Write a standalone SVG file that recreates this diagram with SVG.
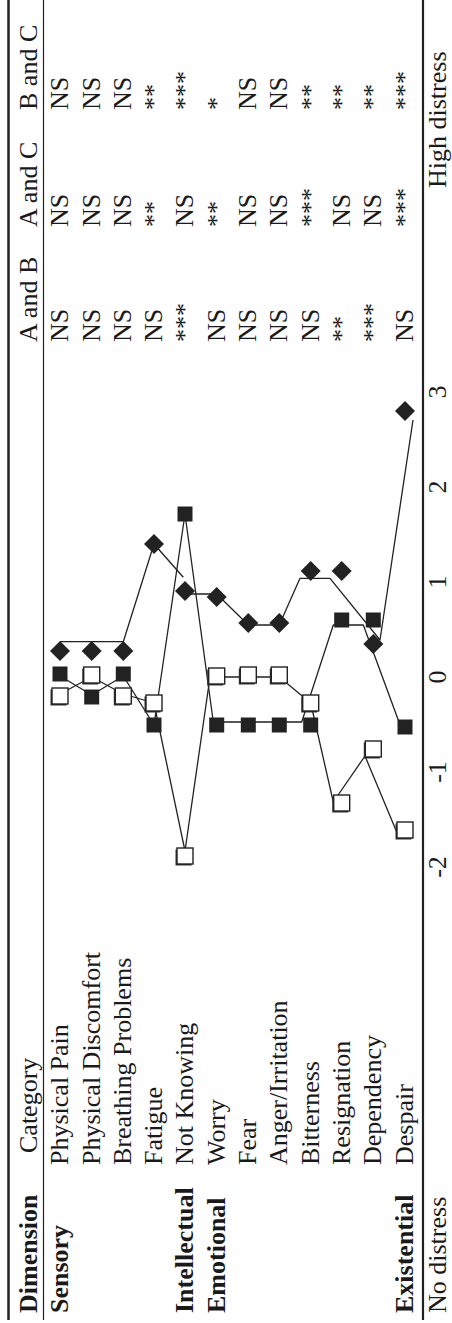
<svg xmlns="http://www.w3.org/2000/svg" xmlns:xlink="http://www.w3.org/1999/xlink" width="452" height="1323" viewBox="0 0 452 1323">
<style>
.t{font-family:"Liberation Serif","Times New Roman",serif;font-size:26px;fill:#1a1a1a}
.b{font-weight:bold}
.m{text-anchor:middle}
.rule{stroke:#222;fill:none}
.ln{stroke:#222;fill:none;stroke-width:1.3;stroke-linejoin:round}
</style>
<defs>
<path id="dia" d="M0,-10 L10,0 L0,10 L-10,0Z" fill="#222"/>
<rect id="fsq" x="-7.5" y="-7.5" width="15" height="15" fill="#222"/>
<g id="osq"><rect x="-9.5" y="-6.5" width="16" height="16" fill="#333"/><rect x="-8" y="-8" width="16" height="16" fill="#fff" stroke="#222" stroke-width="1.4"/></g>
</defs>
<rect width="452" height="1323" fill="#fff"/>
<g id="rules">
<line class="rule" x1="8.5" y1="0" x2="8.5" y2="1320" stroke-width="2.5"/>
<line class="rule" x1="43.5" y1="0" x2="43.5" y2="1320" stroke-width="1.2"/>
<line class="rule" x1="423" y1="0" x2="423" y2="1320" stroke-width="2.2"/>
</g>
<g id="table-text" transform="translate(0,1323) rotate(-90)">
<g id="header">
<text class="t b" x="10" y="37">Dimension</text>
<text class="t" x="170" y="37">Category</text>
<text class="t" x="981" y="37">A and B</text>
<text class="t" x="1096" y="37">A and C</text>
<text class="t" x="1213" y="37">B and C</text>
</g>
<g id="dimensions">
<text class="t b" x="10" y="68">Sensory</text>
<text class="t b" x="10" y="193">Intellectual</text>
<text class="t b" x="10" y="224.7">Emotional</text>
<text class="t b" x="10" y="413">Existential</text>
</g>
<g id="categories">
<text class="t" x="158" y="68">Physical Pain</text>
<text class="t" x="158" y="99.7">Physical Discomfort</text>
<text class="t" x="158" y="131.3">Breathing Problems</text>
<text class="t" x="158" y="162">Fatigue</text>
<text class="t" x="158" y="193">Not Knowing</text>
<text class="t" x="158" y="224.7">Worry</text>
<text class="t" x="158" y="256.3">Fear</text>
<text class="t" x="158" y="287.3">Anger/Irritation</text>
<text class="t" x="158" y="318.7">Bitterness</text>
<text class="t" x="158" y="349.7">Resignation</text>
<text class="t" x="158" y="381.3">Dependency</text>
<text class="t" x="158" y="413">Despair</text>
</g>
<g id="col-ab">
<text class="t" x="981" y="68">NS</text>
<text class="t" x="981" y="99.7">NS</text>
<text class="t" x="981" y="131.3">NS</text>
<text class="t" x="981" y="162">NS</text>
<text class="t" x="981" y="193">***</text>
<text class="t" x="981" y="224.7">NS</text>
<text class="t" x="981" y="256.3">NS</text>
<text class="t" x="981" y="287.3">NS</text>
<text class="t" x="981" y="318.7">NS</text>
<text class="t" x="981" y="349.7">**</text>
<text class="t" x="981" y="381.3">***</text>
<text class="t" x="981" y="413">NS</text>
</g>
<g id="col-ac">
<text class="t" x="1096" y="68">NS</text>
<text class="t" x="1096" y="99.7">NS</text>
<text class="t" x="1096" y="131.3">NS</text>
<text class="t" x="1096" y="162">**</text>
<text class="t" x="1096" y="193">NS</text>
<text class="t" x="1096" y="224.7">**</text>
<text class="t" x="1096" y="256.3">NS</text>
<text class="t" x="1096" y="287.3">NS</text>
<text class="t" x="1096" y="318.7">***</text>
<text class="t" x="1096" y="349.7">NS</text>
<text class="t" x="1096" y="381.3">NS</text>
<text class="t" x="1096" y="413">***</text>
</g>
<g id="col-bc">
<text class="t" x="1213" y="68">NS</text>
<text class="t" x="1213" y="99.7">NS</text>
<text class="t" x="1213" y="131.3">NS</text>
<text class="t" x="1213" y="162">**</text>
<text class="t" x="1213" y="193">***</text>
<text class="t" x="1213" y="224.7">*</text>
<text class="t" x="1213" y="256.3">NS</text>
<text class="t" x="1213" y="287.3">NS</text>
<text class="t" x="1213" y="318.7">**</text>
<text class="t" x="1213" y="349.7">**</text>
<text class="t" x="1213" y="381.3">**</text>
<text class="t" x="1213" y="413">***</text>
</g>
<g id="footer">
<text class="t" x="10" y="446">No distress</text>
<text class="t" x="1135" y="446">High distress</text>
<text class="t m" x="456" y="446">-2</text>
<text class="t m" x="551" y="446">-1</text>
<text class="t m" x="646" y="446">0</text>
<text class="t m" x="741" y="446">1</text>
<text class="t m" x="836" y="446">2</text>
<text class="t m" x="931" y="446">3</text>
</g>
</g>
<g id="connectors">
<polyline class="ln" points="60,641.7 123.3,641.7 154,544 183.3,577.3"/>
<polyline class="ln" points="185,594 216.7,594 248.3,625 279.3,625 300,578.3 330,578.3 380,640 413,420"/>
<polyline class="ln" points="60,676 91.7,695 123.3,676 154,725 185,514 213.3,722 301.7,722 333.3,625 363.3,625 399,722"/>
<polyline class="ln" points="60,694 91.7,677 123.3,694 154,703 185,851 210,677 279.3,677 310.7,703 333.3,802 365,756 396.7,832"/>
</g>
<g id="series-c">
<use xlink:href="#osq" x="60" y="696"/>
<use xlink:href="#osq" x="91.7" y="675"/>
<use xlink:href="#osq" x="123.3" y="696"/>
<use xlink:href="#osq" x="154" y="703"/>
<use xlink:href="#osq" x="185" y="856"/>
<use xlink:href="#osq" x="216.7" y="676"/>
<use xlink:href="#osq" x="248.3" y="675"/>
<use xlink:href="#osq" x="279.3" y="675"/>
<use xlink:href="#osq" x="310.7" y="703"/>
<use xlink:href="#osq" x="341.7" y="803"/>
<use xlink:href="#osq" x="373.3" y="749"/>
<use xlink:href="#osq" x="405" y="830"/>
</g>
<g id="series-b">
<use xlink:href="#fsq" x="60" y="674"/>
<use xlink:href="#fsq" x="91.7" y="697"/>
<use xlink:href="#fsq" x="123.3" y="674"/>
<use xlink:href="#fsq" x="154" y="725"/>
<use xlink:href="#fsq" x="185" y="514"/>
<use xlink:href="#fsq" x="216.7" y="725"/>
<use xlink:href="#fsq" x="248.3" y="725"/>
<use xlink:href="#fsq" x="279.3" y="725"/>
<use xlink:href="#fsq" x="310.7" y="725"/>
<use xlink:href="#fsq" x="341.7" y="620"/>
<use xlink:href="#fsq" x="373.3" y="620"/>
<use xlink:href="#fsq" x="405" y="727"/>
</g>
<g id="series-a">
<use xlink:href="#dia" x="60" y="651"/>
<use xlink:href="#dia" x="91.7" y="651"/>
<use xlink:href="#dia" x="123.3" y="651"/>
<use xlink:href="#dia" x="154" y="544"/>
<use xlink:href="#dia" x="185" y="591"/>
<use xlink:href="#dia" x="216.7" y="597"/>
<use xlink:href="#dia" x="248.3" y="623"/>
<use xlink:href="#dia" x="279.3" y="623"/>
<use xlink:href="#dia" x="310.7" y="571"/>
<use xlink:href="#dia" x="341.7" y="571"/>
<use xlink:href="#dia" x="373.3" y="644"/>
<use xlink:href="#dia" x="405" y="411"/>
</g>
</svg>
